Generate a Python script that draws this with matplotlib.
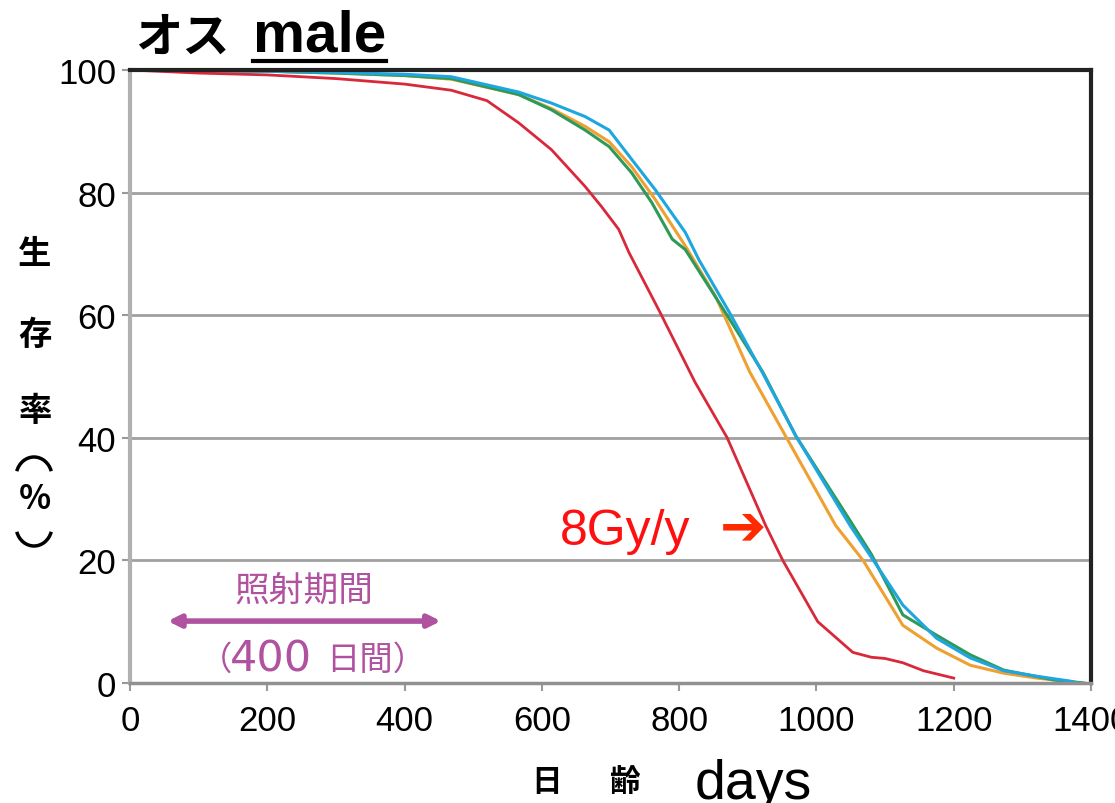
import numpy as np
import matplotlib
matplotlib.use("Agg")
import matplotlib.pyplot as plt
from matplotlib.lines import Line2D
from matplotlib.patches import Arc

# --- データ（図から読み取った生存率 %） ---
red_days = [0, 100, 200, 300, 400, 468, 520, 566, 614, 663, 687, 712, 727, 772,
            823, 870, 926, 951, 1002, 1053, 1080, 1100, 1126, 1156, 1200]
red_surv = [100, 99.5, 99.2, 98.6, 97.7, 96.7, 95.0, 91.4, 87.0, 81.0, 77.7, 74.0,
            70.2, 60.5, 49.1, 40.0, 25.7, 20.0, 10.0, 5.0, 4.2, 4.0, 3.3, 2.0, 0.8]

blue_days = [0, 200, 300, 400, 468, 566, 614, 663, 698, 731, 765, 809, 829, 873,
             922, 970, 1049, 1083, 1126, 1175, 1224, 1273, 1321, 1370, 1380]
blue_surv = [100, 99.8, 99.6, 99.3, 98.9, 96.4, 94.6, 92.4, 90.2, 85.4, 80.5, 73.5,
             69.0, 60.5, 50.5, 40.3, 25.7, 20.0, 12.7, 7.3, 4.1, 2.0, 1.1, 0.3, 0.0]

green_days = [0, 200, 300, 400, 468, 566, 614, 663, 698, 731, 760, 790, 809, 867,
              922, 970, 1049, 1080, 1126, 1175, 1224, 1273, 1346, 1390]
green_surv = [100, 99.8, 99.5, 99.1, 98.6, 96.0, 93.5, 90.2, 87.5, 83.2, 78.4, 72.4,
              70.7, 60.5, 50.7, 40.3, 26.5, 21.0, 11.1, 7.8, 4.6, 2.1, 0.5, 0.0]

orange_days = [0, 200, 300, 400, 468, 566, 614, 663, 698, 731, 765, 809, 853, 903,
               955, 1028, 1068, 1126, 1175, 1224, 1273, 1321, 1385]
orange_surv = [100, 99.8, 99.5, 99.1, 98.5, 96.0, 93.7, 90.8, 88.3, 84.2, 78.9, 71.3,
               63.1, 50.7, 40.3, 25.7, 20.0, 9.4, 5.7, 2.9, 1.6, 0.8, 0.0]

x_ticks = [0, 200, 400, 600, 800, 1000, 1200, 1400]
y_ticks = [0, 20, 40, 60, 80, 100]
irr_start, irr_end = 55, 453   # 照射期間の矢印（日）

cjk = ['Noto Sans CJK JP', 'DejaVu Sans']
sans = ['Liberation Sans', 'DejaVu Sans']

W, H = 1115, 804
fig = plt.figure(figsize=(11.15, 8.04), dpi=100)
ax = fig.add_axes([130 / W, 1 - 684 / H, 961 / W, 613 / H])

ax.plot(orange_days, orange_surv, color='#f0a030', lw=2.2)
ax.plot(green_days, green_surv, color='#2e9a5a', lw=2.2)
ax.plot(blue_days, blue_surv, color='#1ea6e0', lw=2.2)
ax.plot(red_days, red_surv, color='#d8283a', lw=2.0)

ax.set_xlim(0, 1400)
ax.set_ylim(0, 100)
ax.set_xticks(x_ticks)
ax.set_yticks(y_ticks)
ax.set_xticklabels([str(v) for v in x_ticks], family=sans, fontsize=25)
ax.set_yticklabels([str(v) for v in y_ticks], family=sans, fontsize=25)
ax.tick_params(axis='both', length=6, width=1.5, color='#999999', pad=4)
ax.tick_params(axis='x', pad=9)
for y in [20, 40, 60, 80]:
    ax.axhline(y, color='#a0a0a0', lw=2, zorder=0)

ax.spines['left'].set_color('#b0b0b0')
ax.spines['left'].set_linewidth(3)
ax.spines['bottom'].set_color('#909090')
ax.spines['bottom'].set_linewidth(2.5)
ax.spines['top'].set_color('#222222')
ax.spines['top'].set_linewidth(3)
ax.spines['right'].set_color('#222222')
ax.spines['right'].set_linewidth(3)

# 照射期間の矢印
purple = '#b0529f'
ax.annotate('', xy=(irr_start, 10.1), xytext=(irr_end, 10.1),
            arrowprops=dict(arrowstyle='<|-|>', color=purple, lw=4,
                            mutation_scale=18, shrinkA=0, shrinkB=0))
ax.text((irr_start + irr_end) / 2, 15.2, '照射期間', family=cjk, fontsize=25,
        color=purple, ha='center', va='center')
# （400日間）: 括弧・数字・漢字を分けて配置
fig.text(232 / W, 1 - 660 / H, '（', family=cjk, fontsize=24, color=purple,
         ha='right', va='center')
fig.text(230 / W, 1 - 660 / H, '400', family=['DejaVu Sans'], fontsize=31,
         color=purple, ha='left', va='center')
fig.text(326 / W, 1 - 660 / H, '日間）', family=cjk, fontsize=24, color=purple,
         ha='left', va='center')

# 8Gy/y
ax.text(722, 24.8, '8Gy/y', family=sans, fontsize=36, color='#ff1010',
        ha='center', va='center')
ax.text(893, 25.3, '➔', family=['DejaVu Sans'], fontsize=40, color='#ff2a00',
        ha='center', va='center', fontweight='bold')

# タイトル
fig.text(135 / W, 1 - 38 / H, 'オス', family=cjk, fontsize=34,
         fontweight='bold', ha='left', va='center')
t_male = fig.text(253 / W, 1 - 52 / H, 'male', family=sans, fontsize=42,
                  fontweight='bold', ha='left', va='baseline')

# 縦軸ラベル
ylab = [('生', 255), ('存', 335), ('率', 412), ('%', 500)]
for ch, py in ylab:
    fig.text(35 / W, 1 - py / H, ch, family=cjk, fontsize=24,
             fontweight='bold', ha='center', va='center')
# 縦書きの括弧 ︵ ︶
fig.add_artist(Arc((34 / W, 1 - 478 / H), 36 / W, 40 / H, theta1=25, theta2=155,
                   transform=fig.transFigure, color='black', lw=2.5))
fig.add_artist(Arc((34 / W, 1 - 527 / H), 36 / W, 40 / H, theta1=205, theta2=335,
                   transform=fig.transFigure, color='black', lw=2.5))

# 横軸ラベル
fig.text(546 / W, 1 - 782 / H, '日', family=cjk, fontsize=22,
         fontweight='bold', ha='center', va='center')
fig.text(625 / W, 1 - 782 / H, '齢', family=cjk, fontsize=22,
         fontweight='bold', ha='center', va='center')
fig.text(695 / W, 1 - 799 / H, 'days', family=sans, fontsize=40,
         ha='left', va='baseline')

# male の下線
fig.canvas.draw()
bb = t_male.get_window_extent().transformed(fig.transFigure.inverted())
fig.add_artist(Line2D([bb.x0, bb.x1], [1 - 62 / H] * 2, color='black', lw=3,
                      transform=fig.transFigure))

fig.savefig('out.png', dpi=100, facecolor='white')
